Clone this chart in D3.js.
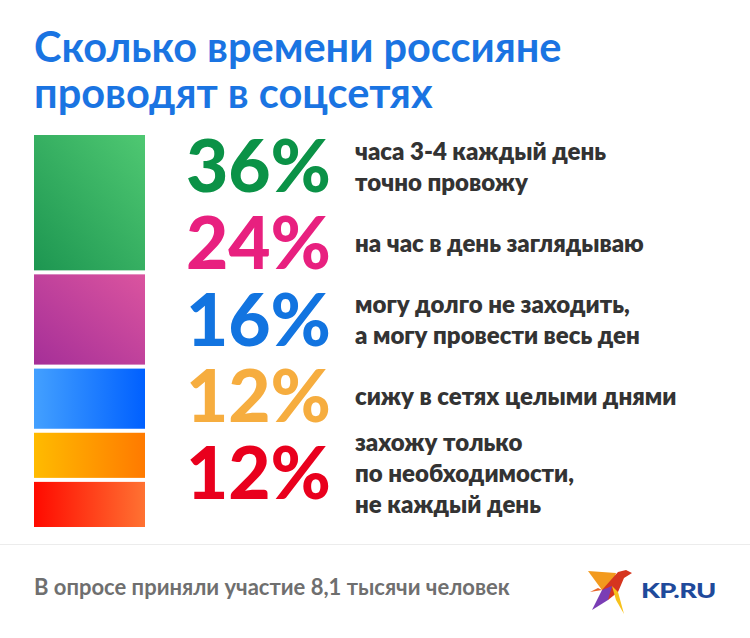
<!DOCTYPE html>
<html>
<head>
<meta charset="utf-8">
<script src="https://cdn.jsdelivr.net/npm/d3@7"></script>
<style>
  body { margin: 0; background: #fff; }
  svg { display: block; font-family: Lato, "Noto Sans", sans-serif; }
</style>
</head>
<body>
<svg width="750" height="638"></svg>
<script>
// Data
const values = [36, 24, 16, 12, 12];
const labels = [
    ["часа 3-4 каждый день", "точно провожу"],
    ["на час в день заглядываю"],
    ["могу долго не заходить,", "а могу провести весь ден"],
    ["сижу в сетях целыми днями"],
    ["захожу только", "по необходимости,", "не каждый день"]
];
const titleLines = ["Сколько времени россияне", "проводят в соцсетях"];
const footnote = "В опросе приняли участие 8,1 тысячи человек";

// colours
const textColors = ["#0b9247", "#e8207f", "#1274e0", "#f6ad3f", "#e9001d"];
const gradStops = [
    ["#1d9651", "#4fc872"],
    ["#a52f98", "#db549f"],
    ["#43a0ff", "#0060ff"],
    ["#ffbb00", "#ff7a00"],
    ["#ff0a00", "#ff7232"]
];

const svg = d3.select("svg");
const width = +svg.attr("width");

// title
svg.selectAll("text.title")
    .data(titleLines)
    .enter()
    .append("text")
    .attr("class", "title")
    .attr("x", 34)
    .attr("y", (d, i) => 62 + i * 46)
    .attr("fill", "#1a74e2")
    .attr("font-size", 41.5)
    .attr("font-weight", 700)
    .text(d => d);

// gradients
const defs = svg.append("defs");
gradStops.forEach((s, i) => {
    const g = defs.append("linearGradient")
        .attr("id", "g" + i)
        .attr("x1", "0%").attr("y1", i < 2 ? "100%" : "0%")
        .attr("x2", "100%").attr("y2", "0%");
    g.append("stop").attr("offset", "0%").attr("stop-color", s[0]);
    g.append("stop").attr("offset", "100%").attr("stop-color", s[1]);
});

// stacked bar
const gap = 4;
const barTop = 135, barBottom = 527;
const y = d3.scaleLinear()
    .domain([0, d3.sum(values)])
    .range([0, barBottom - barTop - gap * (values.length - 1)]);

let acc = barTop;
const segs = values.map((v, i) => {
    const s = { v, i, y0: acc, h: y(v) };
    acc += y(v) + gap;
    return s;
});

svg.selectAll("rect.seg")
    .data(segs)
    .enter()
    .append("rect")
    .attr("class", "seg")
    .attr("x", 34)
    .attr("y", d => d.y0)
    .attr("width", 111)
    .attr("height", d => d.h)
    .attr("fill", d => `url(#g${d.i})`);

// rows of big numbers + labels
const row = d3.scalePoint()
    .domain(d3.range(values.length))
    .range([192, 499]);

svg.selectAll("text.pct")
    .data(values)
    .enter()
    .append("text")
    .attr("class", "pct")
    .attr("x", 331)
    .attr("y", (d, i) => row(i))
    .attr("text-anchor", "end")
    .attr("font-size", 73)
    .attr("font-weight", 900)
    .attr("fill", (d, i) => textColors[i])
    .text(d => d + "%");

const lineH = 31;
labels.forEach((lines, i) => {
    const mid = row(i) - 25;
    svg.append("text")
        .attr("class", "label")
        .attr("font-size", 24)
        .attr("font-weight", 800)
        .attr("fill", "#333")
        .selectAll("tspan")
        .data(lines)
        .enter()
        .append("tspan")
        .attr("x", 355)
        .attr("y", (d, j) => mid + 8 + (j - (lines.length - 1) / 2) * lineH)
        .text(d => d);
});

// footer
svg.append("line")
    .attr("x1", 0).attr("x2", width)
    .attr("y1", 544.5).attr("y2", 544.5)
    .attr("stroke", "#ececec");

svg.append("text")
    .attr("x", 34)
    .attr("y", 595)
    .attr("font-size", 22)
    .attr("font-weight", 700)
    .attr("fill", "#6f6f6f")
    .text(footnote);

// logo
const logo = svg.append("g").attr("transform", "translate(588,570)");
logo.append("path").attr("d", "M0,1 L28,3 L24,16 L14,20 Z").attr("fill", "#f39a1e");
logo.append("path").attr("d", "M14,20 L30,2 L38,0 L44,3 L36,8 L30,22 L20,30 Z").attr("fill", "#d6351f");
logo.append("path").attr("d", "M14,20 L24,16 L20,30 L4,40 Z").attr("fill", "#7a3db5");
logo.append("path").attr("d", "M24,16 L30,22 L36,44 L28,30 Z").attr("fill", "#f7c21c");
logo.append("path").attr("d", "M14,20 L2,22 L10,18 Z").attr("fill", "#e8662a");
logo.append("text")
    .attr("transform", "translate(53,28) scale(1.3,1)")
    .attr("font-size", 21)
    .attr("font-weight", 900)
    .attr("letter-spacing", -0.5)
    .attr("fill", "#1f4a9b")
    .text("KP.RU");
</script>
</body>
</html>
